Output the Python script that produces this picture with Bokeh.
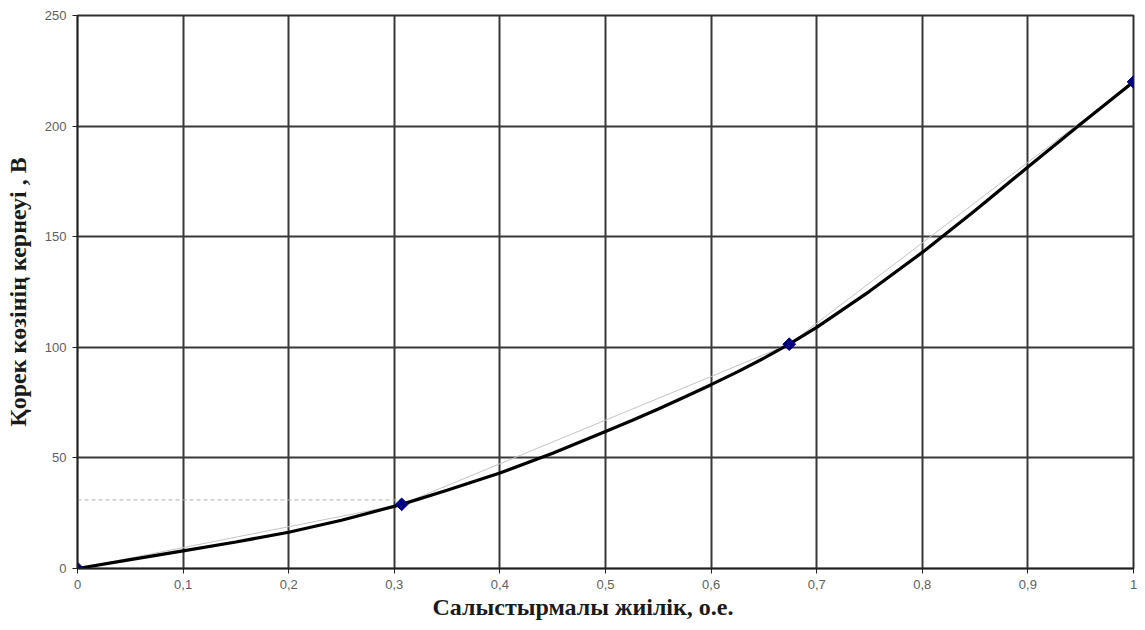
import math
from bokeh.plotting import figure
from bokeh.models import FixedTicker, Range1d, Title
from bokeh.embed import file_html
from bokeh.resources import INLINE

# Measured points (relative frequency, supply voltage)
point_x = [0.0, 0.307, 0.674, 1.0]
point_y = [0.0, 29.0, 101.4, 220.0]

# Smoothed characteristic curve
curve_x = [0.0, 0.05, 0.1, 0.15, 0.2, 0.25, 0.307, 0.35, 0.4, 0.45, 0.5,
           0.525, 0.55, 0.575, 0.6, 0.625, 0.65, 0.674, 0.7, 0.75, 0.8,
           0.85, 0.9, 0.95, 1.0]
curve_y = [0.0, 4.0, 8.0, 12.0, 16.4, 21.8, 29.0, 35.4, 43.2, 52.1, 61.9,
           66.9, 72.1, 77.5, 83.1, 88.9, 95.1, 101.4, 109.0, 125.3, 142.9,
           161.8, 181.5, 201.0, 220.0]

# Reference level marked by the dashed guide
guide_x = [0.0, 0.307]
guide_y = [31.0, 31.0]

x_ticks = [0.0, 0.1, 0.2, 0.3, 0.4, 0.5, 0.6, 0.7, 0.8, 0.9, 1.0]
x_tick_labels = ["0", "0,1", "0,2", "0,3", "0,4", "0,5", "0,6", "0,7", "0,8", "0,9", "1"]
y_ticks = [0, 50, 100, 150, 200, 250]

p = figure(width=1145, height=630, output_backend="svg", toolbar_location=None,
           x_range=Range1d(0, 1), y_range=Range1d(0, 250),
           min_border_left=77, min_border_right=12, min_border_top=15, min_border_bottom=62)

p.background_fill_color = "white"
p.border_fill_color = "white"
p.outline_line_color = "#303030"
p.outline_line_width = 2

for grid in (p.xgrid, p.ygrid):
    grid.grid_line_color = "#383838"
    grid.grid_line_width = 2
p.xgrid.ticker = FixedTicker(ticks=x_ticks)
p.ygrid.ticker = FixedTicker(ticks=y_ticks)

p.xaxis.ticker = FixedTicker(ticks=x_ticks)
p.xaxis.major_label_overrides = {t: s for t, s in zip(x_ticks, x_tick_labels)}
p.yaxis.ticker = FixedTicker(ticks=y_ticks)

for ax in (p.xaxis, p.yaxis):
    ax.axis_line_color = "#202020"
    ax.axis_line_width = 1.5
    ax.major_tick_line_color = "#202020"
    ax.major_tick_in = 0
    ax.major_tick_out = 5
    ax.minor_tick_line_color = None
    ax.major_label_text_font = "Liberation Sans"
    ax.major_label_text_font_size = "13px"
    ax.major_label_text_color = "#606060"
    ax.major_label_standoff = 6

p.yaxis.axis_label = "Қорек көзінің кернеуі , В"
p.yaxis.axis_label_standoff = 11
p.yaxis.axis_label_text_font = "Liberation Serif"
p.yaxis.axis_label_text_font_style = "bold"
p.yaxis.axis_label_text_font_size = "24px"
p.yaxis.axis_label_text_color = "#1a1a1a"

# x-axis caption, set slightly left of the frame centre
x_title = Title(text="Салыстырмалы жиілік, о.е.", align="left", offset=355,
                text_font="Liberation Serif", text_font_style="bold",
                text_font_size="24px", text_color="#1a1a1a", standoff=0)
p.add_layout(x_title, "below")

# dashed guide and straight connection between measured points
p.line(guide_x, guide_y, line_color="#b0b0b0", line_width=1, line_dash="4 3")
p.line(point_x, point_y, line_color="#c4c4c4", line_width=1)

# characteristic curve
p.line(curve_x, curve_y, line_color="black", line_width=3.2)

# measured points as diamonds
p.scatter(point_x, point_y, marker="square", angle=math.pi / 4, size=9,
          fill_color="#000080", line_color="#000080")

open("out.html", "w").write(file_html(p, INLINE))
